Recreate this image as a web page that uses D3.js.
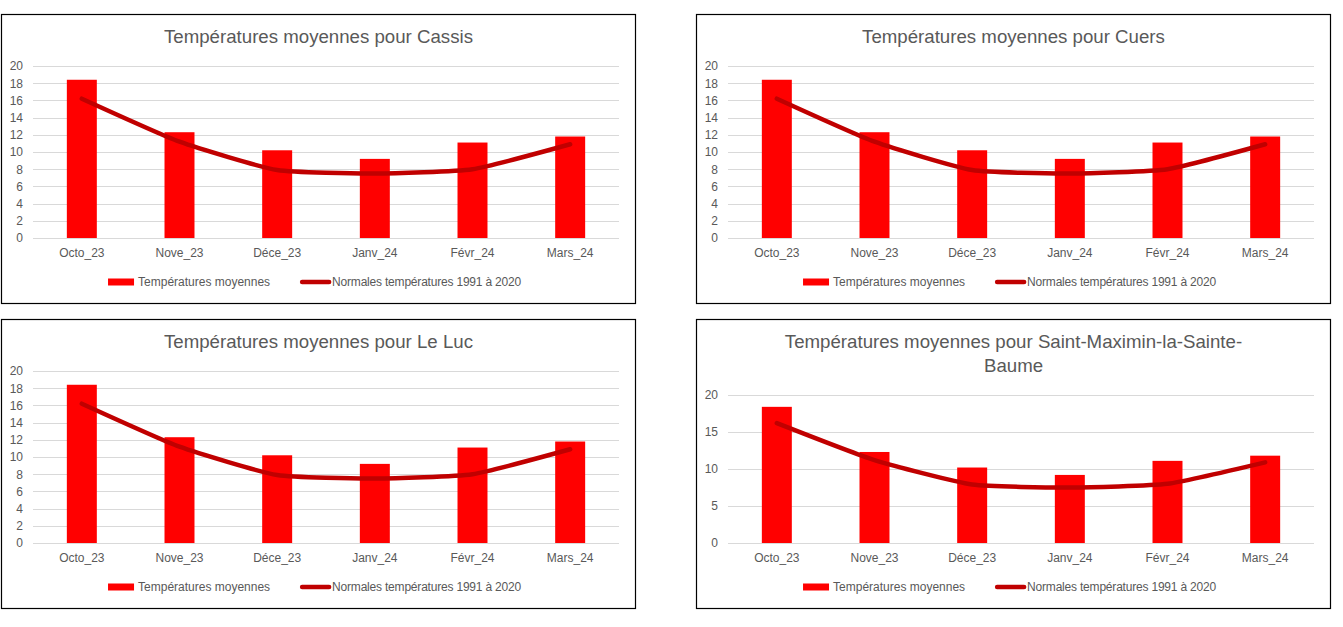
<!DOCTYPE html>
<html><head><meta charset="utf-8">
<script src="https://cdn.jsdelivr.net/npm/d3@7"></script>
<style>
html,body{margin:0;padding:0;background:#fff;}
svg{display:block;font-family:"Liberation Sans",Arial,sans-serif;}
</style></head>
<body>
<svg id="chart" width="1343" height="627"></svg>
<script>
// ---- data ----
const categories = ["Octo_23","Nove_23","Déce_23","Janv_24","Févr_24","Mars_24"];
const stations = ["Cassis","Cuers","Le Luc","Saint-Maximin-la-Sainte-Baume"];
const cassisTemps    = [18.4, 12.3, 10.2, 9.2, 11.1, 11.8];
const cuersTemps     = [18.4, 12.3, 10.2, 9.2, 11.1, 11.8];
const leLucTemps     = [18.4, 12.3, 10.2, 9.2, 11.1, 11.8];
const stMaximinTemps = [18.4, 12.3, 10.2, 9.2, 11.1, 11.8];
const normals1991_2020 = [16.2, 11.2, 7.9, 7.5, 8.0, 10.9];
const yTicksFine   = [0, 2, 4, 6, 8, 10, 12, 14, 16, 18, 20];
const yTicksCoarse = [0, 5, 10, 15, 20];
const legendLabels = ["Températures moyennes", "Normales températures 1991 à 2020"];
const titlePrefix = "Températures moyennes pour ";

// ---- layout ----
const svg = d3.select("#chart");
const panelW = 634, panelH = 289;
const panels = [
  {x: 1,   y: 14,  station: stations[0], temps: cassisTemps,    ticks: yTicksFine,   plotTop: 52},
  {x: 696, y: 14,  station: stations[1], temps: cuersTemps,     ticks: yTicksFine,   plotTop: 52},
  {x: 1,   y: 319, station: stations[2], temps: leLucTemps,     ticks: yTicksFine,   plotTop: 52},
  {x: 696, y: 319, station: stations[3], temps: stMaximinTemps, ticks: yTicksCoarse, plotTop: 76}
];
const textColor = "#595959", gridColor = "#d9d9d9";
const barColor = "#ff0000", lineColor = "#c00000";

panels.forEach(p => {
  const g = svg.append("g").attr("transform", `translate(${p.x},${p.y})`);
  g.append("rect").attr("x", 0.5).attr("y", 0.5).attr("width", panelW).attr("height", panelH)
    .attr("fill", "#fff").attr("stroke", "#000").attr("stroke-width", 1.2);

  // title with wrapping
  const title = g.append("text").attr("x", panelW / 2 + 0.5).attr("y", 29)
    .attr("text-anchor", "middle").attr("fill", textColor).style("font-size", "18.67px")
    .text(titlePrefix + p.station);
  const maxW = 480;
  if (title.node().getComputedTextLength() > maxW) {
    const full = titlePrefix + p.station;
    const tokens = full.match(/[^\s-]+-?\s?|\s/g);
    title.text(null);
    let line = "", lines = [];
    const probe = g.append("text").style("font-size", "18.67px").attr("visibility", "hidden");
    tokens.forEach(t => {
      const test = line + t;
      probe.text(test.trim());
      if (probe.node().getComputedTextLength() > maxW && line) { lines.push(line.trim()); line = t; }
      else line = test;
    });
    lines.push(line.trim());
    probe.remove();
    lines.forEach((l, i) => title.append("tspan").attr("x", panelW / 2 + 0.5).attr("dy", i ? 24 : 0).text(l));
  }

  const plotBottom = 224;
  const x = d3.scaleBand().domain(categories).range([32, 618]).paddingInner(0.693).paddingOuter(0.3465);
  const y = d3.scaleLinear().domain([0, 20]).range([plotBottom, p.plotTop]);

  // gridlines
  g.append("g").selectAll("line").data(p.ticks).join("line")
    .attr("x1", 32).attr("x2", 618)
    .attr("y1", d => Math.round(y(d)) + 0.5).attr("y2", d => Math.round(y(d)) + 0.5)
    .attr("stroke", gridColor).attr("stroke-width", 1);

  // y axis labels
  const yAxis = d3.axisLeft(y).tickValues(p.ticks).tickSize(0).tickPadding(10);
  const ya = g.append("g").attr("transform", "translate(32,0)").call(yAxis);
  ya.select(".domain").remove();
  ya.selectAll("text").attr("fill", textColor).style("font-size", "12px").style("font-family", "inherit");

  // bars
  g.append("g").selectAll("rect").data(p.temps).join("rect")
    .attr("x", (d, i) => x(categories[i])).attr("width", x.bandwidth())
    .attr("y", d => y(d)).attr("height", d => y(0) - y(d))
    .attr("fill", barColor);

  // x axis
  const xAxis = d3.axisBottom(x).tickSize(0).tickPadding(10);
  const xa = g.append("g").attr("transform", `translate(0,${plotBottom})`).call(xAxis);
  xa.select(".domain").remove();
  xa.selectAll("text").attr("fill", textColor).style("font-size", "12px").style("font-family", "inherit")
    .attr("dy", "0.71em");

  // normals line
  const line = d3.line()
    .x((d, i) => x(categories[i]) + x.bandwidth() / 2)
    .y(d => y(d))
    .curve(d3.curveCardinal.tension(0.5));
  g.append("path").datum(normals1991_2020).attr("d", line)
    .attr("fill", "none").attr("stroke", lineColor).attr("stroke-width", 4.5)
    .attr("stroke-linecap", "round").attr("stroke-linejoin", "round");

  // legend
  const ly = 268;
  const lg = g.append("g");
  lg.append("rect").attr("x", 0).attr("y", ly - 3.5).attr("width", 26).attr("height", 7).attr("fill", barColor);
  const t1 = lg.append("text").attr("x", 30).attr("y", ly).attr("dy", "0.35em")
    .attr("fill", textColor).style("font-size", "12px").text(legendLabels[0]);
  const x2 = 30 + t1.node().getComputedTextLength() + 30;
  lg.append("line").attr("x1", x2 + 2).attr("x2", x2 + 29).attr("y1", ly).attr("y2", ly)
    .attr("stroke", lineColor).attr("stroke-width", 4.5).attr("stroke-linecap", "round");
  const t2 = lg.append("text").attr("x", x2 + 32).attr("y", ly).attr("dy", "0.35em")
    .attr("fill", textColor).style("font-size", "12px").style("letter-spacing", "-0.2px").text(legendLabels[1]);
  const totalW = x2 + 32 + t2.node().getComputedTextLength();
  lg.attr("transform", `translate(${(panelW - totalW) / 2 - 3.5},0)`);
});
</script>
</body></html>
